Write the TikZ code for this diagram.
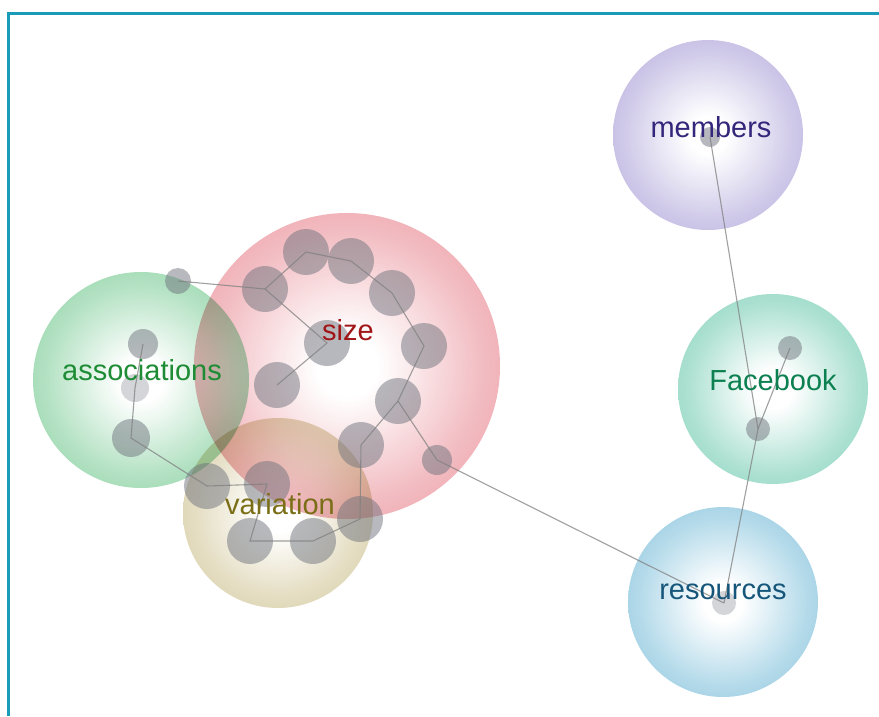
\documentclass[tikz,border=0pt]{standalone}
\usepackage{fontspec}
\setmainfont{Liberation Sans}
\usepackage{xcolor}
\usepackage{tikz}
\usetikzlibrary{positioning}

% rim colours of the bubbles
\definecolor{memrim}{RGB}{150,138,206}
\definecolor{fbrim}{RGB}{78,190,158}
\definecolor{resrim}{RGB}{90,174,208}
\definecolor{sizerim}{RGB}{226,108,120}
\definecolor{assrim}{RGB}{88,190,122}
\definecolor{varrim}{RGB}{196,180,120}
% label colours
\definecolor{memtxt}{RGB}{52,38,122}
\definecolor{fbtxt}{RGB}{12,128,80}
\definecolor{restxt}{RGB}{22,86,122}
\definecolor{sizetxt}{RGB}{160,22,24}
\definecolor{asstxt}{RGB}{30,140,52}
\definecolor{vartxt}{RGB}{122,110,22}
\definecolor{frame}{RGB}{26,155,184}
\definecolor{dotgray}{RGB}{112,116,126}

\colorlet{bubblecol}{gray}
\pgfdeclareradialshading[bubblecol]{bubble}{\pgfpoint{0bp}{0bp}}{color(0bp)=(white); color(5bp)=(white); color(22bp)=(bubblecol!50!white); color(38bp)=(bubblecol!85!white); color(50bp)=(bubblecol)}

\begin{document}
\begin{tikzpicture}[
    % GLOBAL CFG
    x=1pt, y=-1pt,
    % Styles
    bubble/.style={% For the big topic circles
        circle,
        inner sep=0pt,
        shading=bubble,
        fill opacity=.9,
        blend mode=multiply,
        },
    rim/.code={\colorlet{bubblecol}{#1}},
    dot/.style={% For the small grey terms
        circle,
        inner sep=0pt,
        fill=dotgray,
        fill opacity=.5,
        },
    lbl/.style={% Topic names
        font=\fontsize{29}{32}\selectfont,
        inner sep=0pt,
        },
    link/.style={% Connections between terms
        draw=black!50,
        line width=1.1pt,
        draw opacity=.75,
        },
    ]
\useasboundingbox (0,0) rectangle (879,716);

% Frame
\draw[frame, line width=3pt] (879,13) -- (8,13) -- (8,716);

% Draw the bubbles:
\node[bubble, rim=assrim, minimum size=216] (associations) at (141,380) {};
\node[bubble, rim=varrim, minimum size=190] (variation) at (278,513) {};
\node[bubble, rim=sizerim, minimum size=306] (size) at (347,366) {};
\node[bubble, rim=memrim, minimum size=190] (members) at (708,135) {};
\node[bubble, rim=fbrim, minimum size=190] (facebook) at (773,389) {};
\node[bubble, rim=resrim, minimum size=190] (resources) at (723,602) {};

% Terms inside size
\node[dot, minimum size=46] (s1) at (306,252) {};
\node[dot, minimum size=46] (s2) at (351,261) {};
\node[dot, minimum size=46] (s3) at (392,293) {};
\node[dot, minimum size=46] (s4) at (424,346) {};
\node[dot, minimum size=46] (s5) at (398,401) {};
\node[dot, minimum size=46] (s6) at (361,445) {};
\node[dot, minimum size=46] (s7) at (265,289) {};
\node[dot, minimum size=46] (s8) at (327,343) {};
\node[dot, minimum size=46] (s9) at (277,385) {};
\node[dot, minimum size=30] (s10) at (437,460) {};

% Terms inside associations
\node[dot, minimum size=26] (a0) at (178,281) {};
\node[dot, minimum size=30] (a1) at (143,344) {};
\node[dot, minimum size=28, fill opacity=.3] (a2) at (135,388) {};
\node[dot, minimum size=38] (a3) at (131,438) {};

% Terms inside variation
\node[dot, minimum size=46] (v1) at (207,486) {};
\node[dot, minimum size=46] (v2) at (267,484) {};
\node[dot, minimum size=46] (v3) at (250,541) {};
\node[dot, minimum size=46] (v4) at (313,541) {};
\node[dot, minimum size=46] (v5) at (360,519) {};

% Terms on the right
\node[dot, minimum size=20] (m1) at (710,137) {};
\node[dot, minimum size=24] (f1) at (790,348) {};
\node[dot, minimum size=24] (f2) at (758,429) {};
\node[dot, minimum size=24, fill opacity=.3] (r1) at (724,603) {};

% Connecting all
\draw[link] (a0.center) -- (s7.center) -- (s1.center) -- (s2.center) -- (s3.center) -- (s4.center) -- (s5.center) -- (s6.center) -- (v5.center) -- (v4.center) -- (v3.center) -- (v2.center) -- (v1.center) -- (a3.center) -- (a2.center) -- (a1.center);
\draw[link] (s7.center) -- (s8.center) -- (s9.center);
\draw[link] (s5.center) -- (s10.center) -- (r1.center);
\draw[link] (m1.center) -- (f2.center);
\draw[link] (f1.center) -- (f2.center) -- (r1.center);

% Topic names
\node[lbl, text=asstxt] (tassociations) at (142,370) {associations};
\node[lbl, text=vartxt] (tvariation) at (280,504) {variation};
\node[lbl, text=sizetxt] (tsize) at (348,330) {size};
\node[lbl, text=memtxt] (tmembers) at (711,127) {members};
\node[lbl, text=fbtxt] (tfacebook) at (773,380) {Facebook};
\node[lbl, text=restxt] (tresources) at (723,592) {resources};
\end{tikzpicture}
\end{document}
